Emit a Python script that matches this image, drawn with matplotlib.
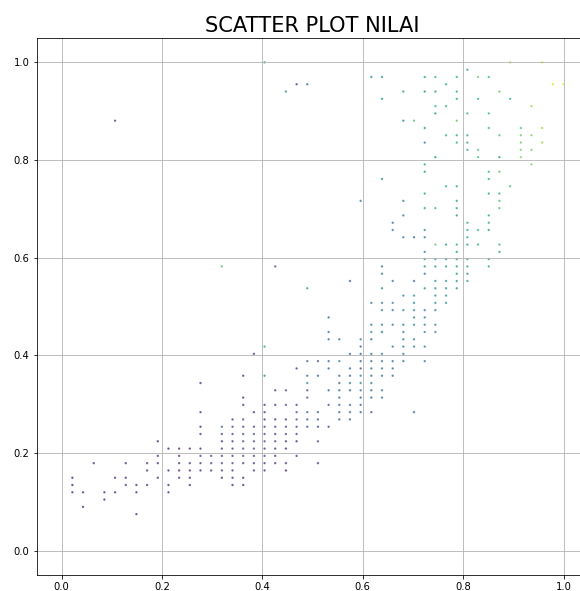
import matplotlib
matplotlib.use("Agg")
import matplotlib.pyplot as plt
import numpy as np

# raw scores (grid steps), one entry per row of y
row_y = [5, 6, 7, 8, 9, 10, 11, 12, 13, 14, 15, 16, 17, 18, 19, 20, 21, 22,
         23, 24, 25, 26, 27, 28, 29, 30, 31, 32, 33, 34, 35, 36, 37, 38, 39,
         40, 41, 42, 43, 44, 45, 46, 47, 48, 49, 50, 51, 52, 53, 54, 55, 56,
         57, 58, 59, 60, 61, 62, 63, 64, 65, 66, 67]
row_x = [
    [7], [2], [4],
    [1, 2, 4, 5, 7, 10],
    [1, 6, 7, 8, 10, 12, 16, 17],
    [1, 5, 6, 9, 11, 12, 15, 16, 17],
    [8, 10, 11, 12, 13, 14, 15, 16, 18, 19, 21],
    [3, 6, 8, 9, 11, 12, 13, 14, 15, 16, 17, 18, 19, 20, 21, 24],
    [9, 11, 13, 14, 15, 16, 17, 18, 19, 20, 22],
    [10, 11, 12, 13, 15, 16, 17, 18, 19, 20, 21],
    [9, 15, 16, 17, 18, 19, 20, 21, 22, 24],
    [13, 15, 16, 17, 18, 19, 20, 21, 22],
    [13, 15, 16, 17, 18, 19, 20, 21, 22, 23, 24, 25],
    [16, 17, 19, 20, 21, 22, 23, 24, 26, 27],
    [13, 18, 19, 22, 23, 24, 26, 27, 28, 29, 33],
    [17, 19, 20, 21, 22, 25, 26, 27, 28],
    [17, 23, 26, 28, 29, 30],
    [20, 21, 23, 25, 26, 27, 28, 29, 30],
    [13, 23, 26, 27, 28, 29],
    [17, 19, 23, 24, 26, 27, 28, 29, 30, 31],
    [22, 25, 27, 28, 29, 30, 31],
    [23, 24, 25, 26, 28, 29, 30, 31, 32, 34],
    [18, 27, 28, 29, 30, 32],
    [19, 28, 31, 32, 33, 34],
    [25, 26, 28, 29, 32, 33],
    [25, 29, 30, 32, 34, 35],
    [29, 30, 31, 32, 33, 34, 35],
    [25, 33, 34],
    [30, 31, 32, 33, 34, 35],
    [29, 30, 31, 33, 35, 36],
    [32, 33, 35, 36],
    [23, 30, 34, 35, 36, 37],
    [27, 31, 33, 35, 36, 37, 38],
    [30, 34, 37, 38],
    [15, 20, 30, 34, 35, 36, 37, 38, 40],
    [34, 35, 36, 37, 38, 40],
    [34, 37, 41],
    [35, 36, 37, 38, 39, 41],
    [32, 33, 34, 38],
    [31, 34, 38, 39, 40],
    [31, 38, 40],
    [32, 37, 40],
    [34, 35, 37, 41],
    [28, 32, 37, 41],
    [34, 40, 41],
    [36, 37, 42],
    [30, 40],
    [34, 40, 41],
    [34, 44],
    [35, 39, 41, 43],
    [38, 39, 43, 44],
    [34, 37, 38, 43, 45],
    [36, 37, 38, 41, 43, 44],
    [34, 40, 43, 45],
    [5, 32, 33, 37],
    [35, 38, 40],
    [35, 36, 44],
    [30, 37, 39, 42],
    [21, 32, 34, 35, 37, 41],
    [22, 23, 36, 46, 47],
    [29, 30, 34, 35, 37, 39, 40],
    [38],
    [19, 42, 45],
]
row_c = [
    [0.1], [0.08], [0.12],
    [0.1, 0.08, 0.1, 0.08, 0.1, 0.12],
    [0.06, 0.12, 0.12, 0.1, 0.1, 0.08, 0.1, 0.1],
    [0.1, 0.1, 0.1, 0.12, 0.12, 0.1, 0.1, 0.12, 0.1],
    [0.12, 0.1, 0.1, 0.12, 0.12, 0.14, 0.16, 0.16, 0.12, 0.12, 0.06],
    [0.1, 0.1, 0.12, 0.1, 0.12, 0.14, 0.16, 0.18, 0.2, 0.18, 0.14, 0.12, 0.16, 0.12, 0.12, 0.14],
    [0.1, 0.12, 0.18, 0.16, 0.16, 0.16, 0.2, 0.14, 0.18, 0.1, 0.14],
    [0.1, 0.1, 0.1, 0.12, 0.15, 0.18, 0.22, 0.2, 0.18, 0.16, 0.1],
    [0.1, 0.12, 0.16, 0.2, 0.2, 0.22, 0.18, 0.14, 0.12, 0.2],
    [0.12, 0.15, 0.18, 0.2, 0.22, 0.18, 0.15, 0.15, 0.18],
    [0.1, 0.3, 0.2, 0.18, 0.2, 0.18, 0.18, 0.2, 0.22, 0.25, 0.25, 0.2],
    [0.15, 0.18, 0.12, 0.15, 0.15, 0.25, 0.25, 0.25, 0.25, 0.3],
    [0.12, 0.12, 0.12, 0.25, 0.28, 0.28, 0.3, 0.32, 0.3, 0.22, 0.35],
    [0.15, 0.12, 0.15, 0.2, 0.18, 0.25, 0.3, 0.3, 0.3],
    [0.12, 0.25, 0.3, 0.32, 0.3, 0.35],
    [0.15, 0.2, 0.22, 0.3, 0.32, 0.3, 0.35, 0.3, 0.35],
    [0.1, 0.5, 0.3, 0.4, 0.45, 0.45],
    [0.12, 0.48, 0.28, 0.28, 0.3, 0.3, 0.45, 0.32, 0.35, 0.35],
    [0.15, 0.3, 0.3, 0.2, 0.35, 0.35, 0.38],
    [0.3, 0.2, 0.3, 0.45, 0.3, 0.35, 0.35, 0.38, 0.4, 0.4],
    [0.15, 0.3, 0.3, 0.35, 0.4, 0.4],
    [0.62, 0.3, 0.4, 0.4, 0.42, 0.45],
    [0.35, 0.35, 0.45, 0.35, 0.42, 0.4],
    [0.35, 0.45, 0.4, 0.42, 0.45, 0.45],
    [0.4, 0.4, 0.42, 0.4, 0.45, 0.45, 0.45],
    [0.35, 0.42, 0.45],
    [0.4, 0.42, 0.42, 0.45, 0.45, 0.45],
    [0.4, 0.42, 0.45, 0.45, 0.48, 0.5],
    [0.48, 0.5, 0.5, 0.5],
    [0.55, 0.45, 0.5, 0.5, 0.5, 0.5],
    [0.25, 0.35, 0.3, 0.5, 0.5, 0.5, 0.55],
    [0.35, 0.4, 0.55, 0.5],
    [0.72, 0.25, 0.35, 0.5, 0.55, 0.55, 0.55, 0.6, 0.6],
    [0.5, 0.5, 0.5, 0.5, 0.55, 0.5],
    [0.45, 0.55, 0.55],
    [0.75, 0.55, 0.6, 0.6, 0.65, 0.65],
    [0.42, 0.3, 0.45, 0.6],
    [0.38, 0.48, 0.6, 0.65, 0.55],
    [0.35, 0.6, 0.6],
    [0.45, 0.5, 0.6],
    [0.58, 0.65, 0.58, 0.7],
    [0.45, 0.4, 0.55, 0.7],
    [0.58, 0.6, 0.62],
    [0.6, 0.6, 0.7],
    [0.48, 0.6],
    [0.55, 0.65, 0.7],
    [0.6, 0.8],
    [0.5, 0.7, 0.5, 0.8],
    [0.62, 0.7, 0.8, 0.8],
    [0.45, 0.6, 0.6, 0.75, 0.85],
    [0.62, 0.6, 0.62, 0.7, 0.75, 0.8],
    [0.5, 0.65, 0.7, 0.85],
    [0.15, 0.45, 0.7, 0.75],
    [0.55, 0.65, 0.65],
    [0.65, 0.6, 0.85],
    [0.5, 0.6, 0.65, 0.65],
    [0.5, 0.55, 0.5, 0.55, 0.6, 0.75],
    [0.15, 0.3, 0.6, 0.95, 0.95],
    [0.5, 0.5, 0.55, 0.65, 0.6, 0.75, 0.65],
    [0.6],
    [0.5, 0.85, 0.92],
]
x_max = 47
y_max = 67

x_raw, y_raw, warna = [], [], []
for yv, xs, cs in zip(row_y, row_x, row_c):
    for xv, cv in zip(xs, cs):
        x_raw.append(xv)
        y_raw.append(yv)
        warna.append(cv)

# min-max scaled like the original
x = np.array(x_raw) / x_max
y = np.array(y_raw) / y_max

fig = plt.figure(figsize=(580 / 72, 591 / 72), dpi=72)
ax = fig.add_axes([36.6 / 580, 16 / 591, 552 / 580, 537 / 591])
ax.scatter(x, y, c=warna, cmap="viridis", vmin=0, vmax=1, s=2, alpha=0.6)
ax.set_xlim(-0.05, 1.05)
ax.set_ylim(-0.05, 1.05)
ax.grid(True)
ax.set_title("SCATTER PLOT NILAI", fontsize=21)
ax.tick_params(labelsize=10)

fig.savefig("out.png", dpi=72)
